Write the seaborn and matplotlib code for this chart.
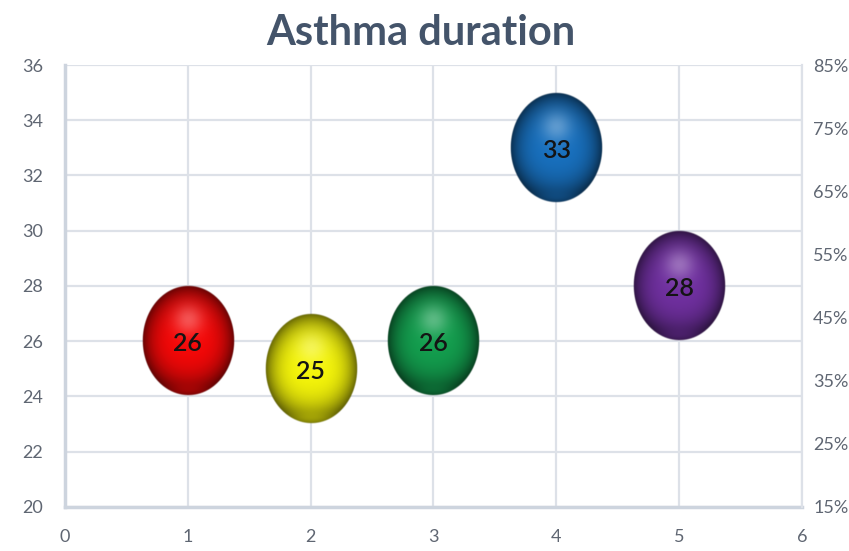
import numpy as np
import pandas as pd
import matplotlib
matplotlib.use("Agg")
import matplotlib.pyplot as plt
import seaborn as sns
from matplotlib.colors import to_rgb
from matplotlib.ticker import FuncFormatter

# Series data
groups = [1, 2, 3, 4, 5]
durations = [26, 25, 26, 33, 28]
colors = ["#F50808", "#F5F50A", "#139E4E", "#1870BE", "#7030A0"]
title = "Asthma duration"
left_ticks = [20, 22, 24, 26, 28, 30, 32, 34, 36]
right_ticks = [0.15, 0.25, 0.35, 0.45, 0.55, 0.65, 0.75, 0.85]
x_ticks = [0, 1, 2, 3, 4, 5, 6]

df = pd.DataFrame({"group": groups, "duration": durations})

sns.set_style("white")
plt.rcParams["font.family"] = ["Lato", "DejaVu Sans"]

fig = plt.figure(figsize=(8.49, 5.51), dpi=100)
ax = fig.add_axes([0.0766, 0.080, 0.868, 0.802])

# bubble size in data units (width along x, height along y)
BW, BH = 0.75, 4.0


def sphere_image(color, n=220):
    base = np.array(to_rgb(color))
    yy, xx = np.mgrid[-1:1:complex(0, int(n * 1.2)), -1:1:complex(0, n)]
    r = np.sqrt(xx ** 2 + yy ** 2)
    # darker towards the rim
    shade = 1.0 - 0.6 * np.clip(r, 0, 1) ** 3.5
    # slightly darker lower half
    shade *= 1.0 - 0.2 * np.clip(yy, 0, 1) ** 2
    rgb = base[None, None, :] * shade[..., None]
    # soft specular highlight above the centre
    hd = np.sqrt((xx / 0.45) ** 2 + ((yy + 0.38) / 0.38) ** 2)
    hl = 0.30 * np.exp(-hd ** 2 * 2.0)
    rgb = rgb + (1 - rgb) * hl[..., None]
    # faint reflected light at the bottom rim
    bd = np.sqrt((xx / 0.6) ** 2 + ((yy - 0.92) / 0.12) ** 2)
    bl = 0.25 * np.exp(-bd ** 2)
    rgb = rgb + (base[None, None, :] * 1.15 - rgb).clip(0, 1) * bl[..., None]
    alpha = np.clip((1.0 - r) * 40, 0, 1)
    img = np.dstack([np.clip(rgb, 0, 1), alpha])
    return img


# base markers placed through seaborn
sns.scatterplot(data=df, x="group", y="duration", hue="group",
                palette=colors, s=20, legend=False, ax=ax, zorder=1,
                edgecolor="none")

for g, d, c in zip(df["group"], df["duration"], colors):
    ax.imshow(sphere_image(c), extent=(g - BW / 2, g + BW / 2, d - BH / 2, d + BH / 2),
              origin="upper", aspect="auto", zorder=3, interpolation="bilinear")
    ax.text(g, d - 0.1, f"{d}", ha="center", va="center", fontsize=18,
            fontweight="semibold", color="#141414", zorder=4)

ax.set_xlim(0, 6)
ax.set_ylim(20, 36)
ax.set_xticks(x_ticks)
ax.set_yticks(left_ticks)
ax.set_xlabel("")
ax.set_ylabel("")
ax.grid(True, color="#DDE1E8", linewidth=1.6)
ax.set_axisbelow(True)
for side in ["top", "right"]:
    ax.spines[side].set_visible(False)
for side in ["left", "bottom"]:
    ax.spines[side].set_color("#CDD4DE")
    ax.spines[side].set_linewidth(2.5)
ax.tick_params(axis="both", length=0, labelsize=13, labelcolor="#5F6672")
ax.tick_params(axis="y", pad=16)
ax.tick_params(axis="x", pad=16)

ax2 = ax.twinx()
ax2.set_ylim(0.15, 0.85)
ax2.set_yticks(right_ticks)
ax2.yaxis.set_major_formatter(FuncFormatter(lambda v, p: f"{v * 100:.0f}%"))
ax2.tick_params(axis="y", length=0, labelsize=13, labelcolor="#5F6672", pad=8)
for side in ["top", "left", "bottom"]:
    ax2.spines[side].set_visible(False)
ax2.spines["right"].set_color("#DDE1E8")
ax2.spines["right"].set_linewidth(1.6)

fig.suptitle(title, x=0.496, y=0.975, fontsize=30, fontweight="bold", color="#44546A")

fig.savefig("out.png", dpi=100, facecolor="white")
